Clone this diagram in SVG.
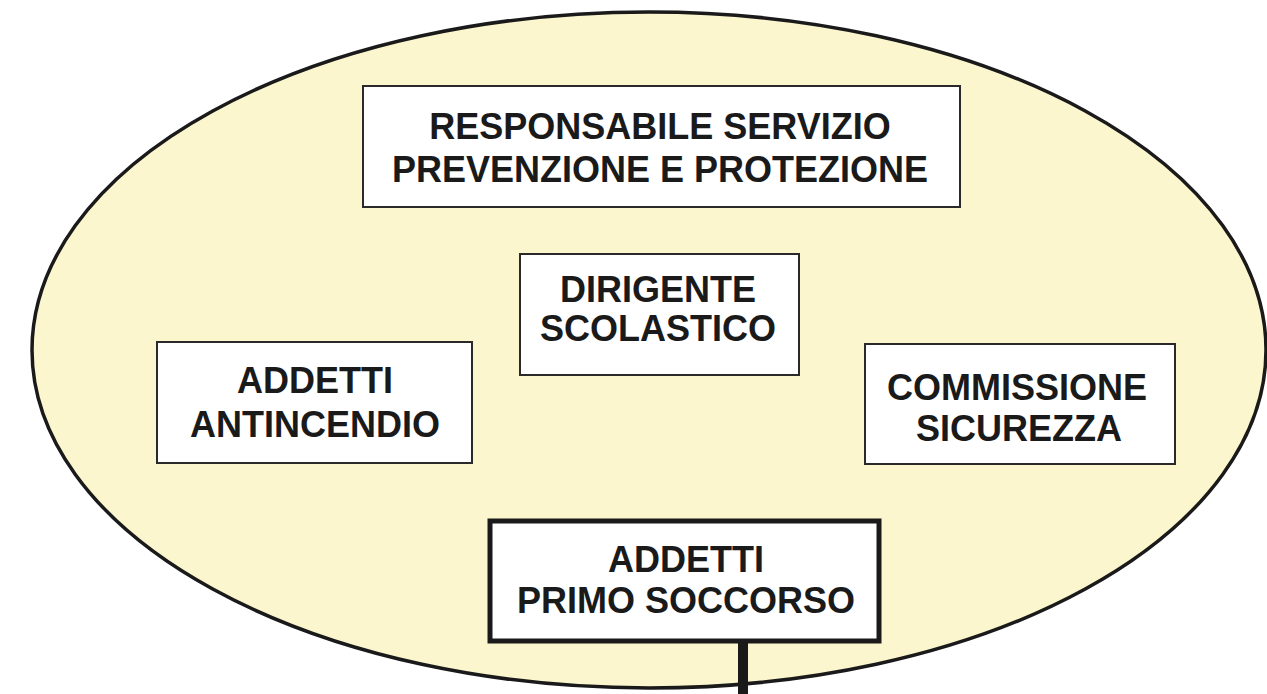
<svg xmlns="http://www.w3.org/2000/svg" width="1267" height="694" viewBox="0 0 1267 694">
<style>
.box{fill:#ffffff;stroke:#2a2a2a;stroke-width:2}
.boxb{fill:#ffffff;stroke:#1a1a1a;stroke-width:5}
.t{font-family:"Liberation Sans",Arial,Helvetica,sans-serif;font-weight:bold;font-size:36px;fill:#1a1a1a;text-anchor:middle}
</style>
<rect width="1267" height="694" fill="#ffffff"/>
<g id="ellipse">
<ellipse cx="649" cy="350" rx="617" ry="338" fill="#fcf6cf" stroke="#1a1a1a" stroke-width="3.5"/>
</g>
<g id="connectors">
<line x1="743" y1="642" x2="743" y2="694" stroke="#1a1a1a" stroke-width="10"/>
</g>
<g id="rspp">
<rect class="box" x="363" y="86" width="597" height="121"/>
<text class="t" x="660" y="139">RESPONSABILE SERVIZIO</text>
<text class="t" x="660" y="182">PREVENZIONE E PROTEZIONE</text>
</g>
<g id="dirigente">
<rect class="box" x="520" y="254" width="279" height="121"/>
<text class="t" x="658" y="302">DIRIGENTE</text>
<text class="t" x="658" y="341">SCOLASTICO</text>
</g>
<g id="antincendio">
<rect class="box" x="157" y="342" width="315" height="121"/>
<text class="t" x="315" y="393">ADDETTI</text>
<text class="t" x="315" y="437">ANTINCENDIO</text>
</g>
<g id="commissione">
<rect class="box" x="865" y="344" width="310" height="120"/>
<text class="t" x="1017" y="400">COMMISSIONE</text>
<text class="t" x="1019" y="441">SICUREZZA</text>
</g>
<g id="primosoccorso">
<rect class="boxb" x="490" y="521" width="389" height="120"/>
<text class="t" x="686" y="572">ADDETTI</text>
<text class="t" x="686" y="613">PRIMO SOCCORSO</text>
</g>
</svg>
